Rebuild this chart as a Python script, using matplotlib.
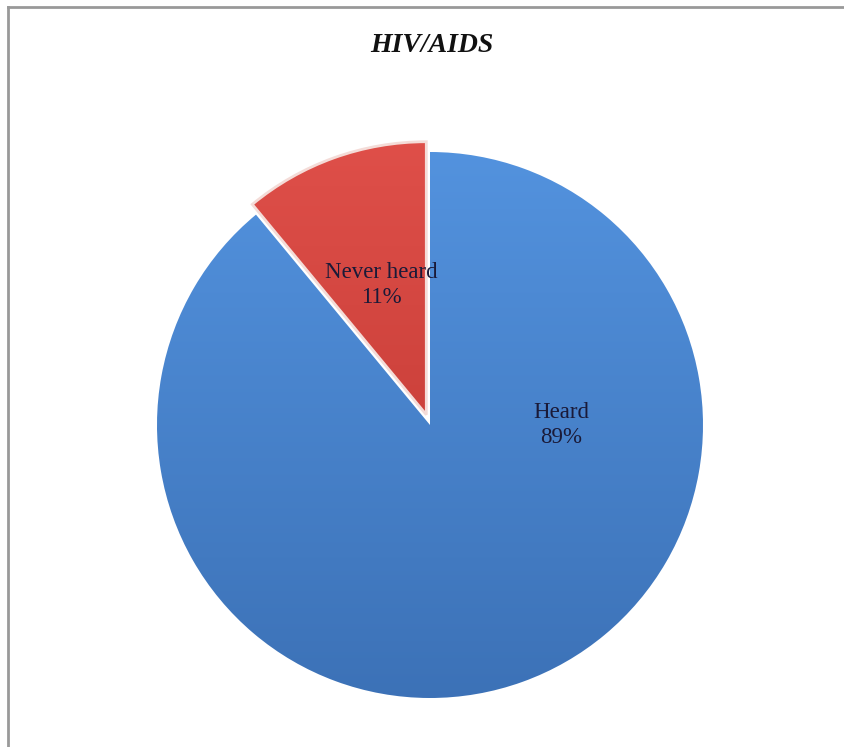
import numpy as np
import matplotlib.pyplot as plt
from matplotlib.colors import LinearSegmentedColormap

# datos
labels = ['Heard', 'Never heard']
values = [89, 11]
explode = [0, 0.04]
colors_top = ['#5494e0', '#e0504a']
colors_bottom = ['#3b70b5', '#b8322c']

fig = plt.figure(figsize=(8.45, 7.47), dpi=100)

# borde gris arriba y a la izquierda
fig.add_artist(plt.Line2D([8.5 / 845, 8.5 / 845], [0, 1 - 6.5 / 747], color='#999999', lw=2))
fig.add_artist(plt.Line2D([8.5 / 845, 1], [1 - 6.5 / 747, 1 - 6.5 / 747], color='#999999', lw=2))

# ejes: radio 1 = 273 px, centro en (430, 425)
cx, cy, r = 430, 425, 273
half = 300
ax = fig.add_axes([(cx - half) / 845, (747 - cy - half) / 747, 2 * half / 845, 2 * half / 747])

wedges, _ = ax.pie(values, explode=explode, startangle=90, counterclock=False,
                   colors=colors_top, radius=1,
                   wedgeprops=dict(edgecolor='none'))

# degradado dentro de cada sector
grad = np.linspace(0, 1, 256).reshape(-1, 1)
for w, ct, cb in zip(wedges, colors_top, colors_bottom):
    cmap = LinearSegmentedColormap.from_list('g', [cb, ct])
    im = ax.imshow(grad, cmap=cmap, extent=[-1.1, 1.1, -1.1, 1.1], origin='lower',
                   aspect='auto', zorder=w.get_zorder() + 0.1)
    im.set_clip_path(w)

# borde claro del sector rojo
wedges[1].set_edgecolor('#f4dcd8')
wedges[1].set_linewidth(2)
wedges[1].set_facecolor('none')
wedges[1].set_zorder(5)
wedges[0].set_facecolor('none')

ax.set_xlim(-half / r, half / r)
ax.set_ylim(-half / r, half / r)
ax.set_aspect('equal')
ax.axis('off')

txt = dict(family='Liberation Serif', fontsize=16.5, color='#1a1a38',
           ha='center', va='center', linespacing=1.2, zorder=10)
ax.text(131 / r, 0 / r, '%s\n%d%%' % (labels[0], values[0]), **txt)
ax.text(-49 / r, 140 / r, '%s\n%d%%' % (labels[1], values[1]), **txt)

fig.text(432 / 845, 1 - 45 / 747, 'HIV/AIDS', family='Liberation Serif',
         fontsize=20, fontweight='bold', fontstyle='italic',
         ha='center', va='center', color='#111111')

fig.savefig('out.png', dpi=100, facecolor='white')
